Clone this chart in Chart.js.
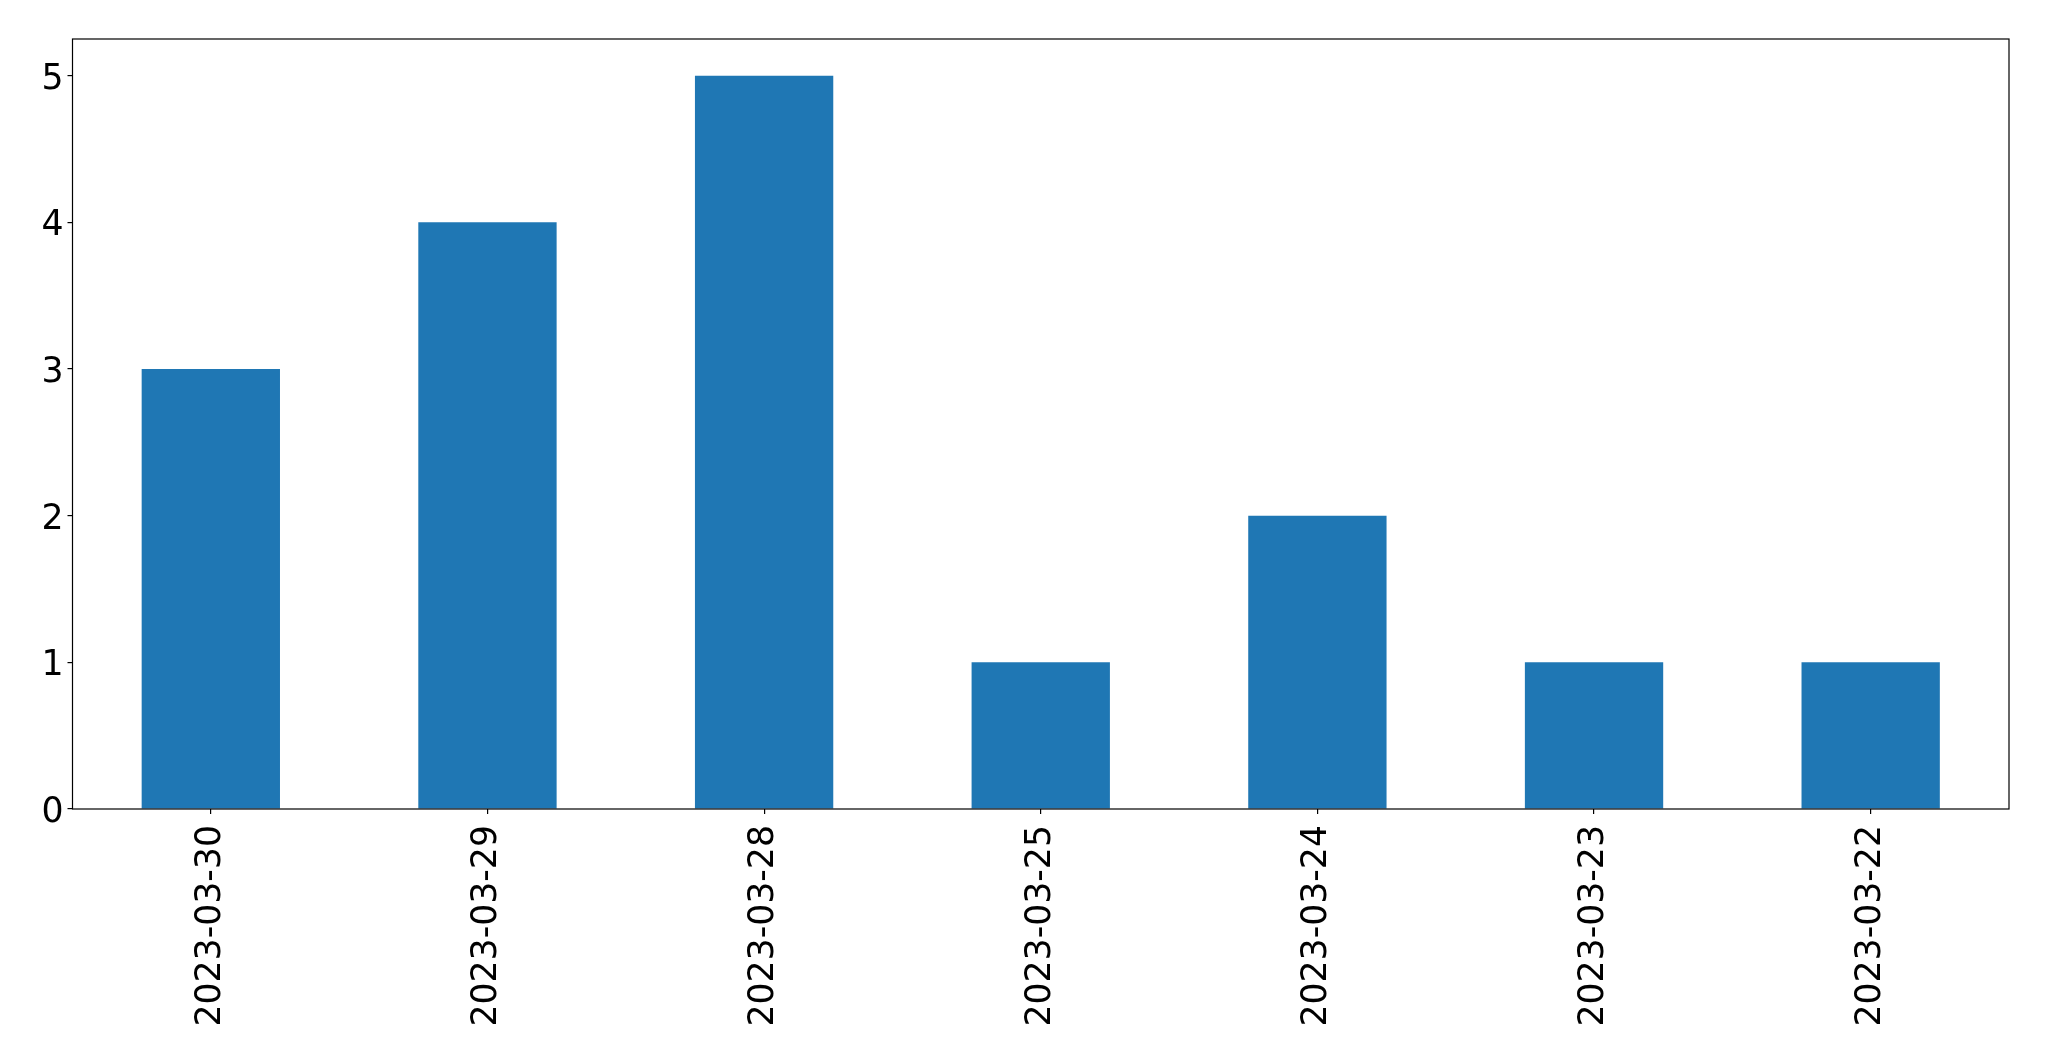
<!DOCTYPE html>
<html>
<head>
<meta charset="utf-8">
<script src="https://cdn.jsdelivr.net/npm/chart.js@4"></script>
<style>
  html, body { margin: 0; padding: 0; background: #fff; }
  #wrap { width: 2049px; height: 1061px; }
</style>
</head>
<body>
<div id="wrap"><canvas id="chartCanvas" width="2049" height="1061"></canvas></div>
<script>
// --- Data ---
const dates = ['2023-03-30', '2023-03-29', '2023-03-28', '2023-03-25', '2023-03-24', '2023-03-23', '2023-03-22'];
const counts = [3, 4, 5, 1, 2, 1, 1];
const yTicks = [0, 1, 2, 3, 4, 5];

const tickFont = { family: 'DejaVu Sans', size: 34.7 };

// Draw the black frame around the plot area
const framePlugin = {
    id: 'frame',
    afterDatasetsDraw(chart) {
        const { ctx, chartArea: a } = chart;
        ctx.save();
        ctx.strokeStyle = '#000';
        ctx.lineWidth = 1.2;
        ctx.strokeRect(a.left, a.top, a.right - a.left, a.bottom - a.top);
        ctx.restore();
    }
};

const canvas = document.getElementById('chartCanvas');
new Chart(canvas, {
    type: 'bar',
    data: {
        labels: dates,
        datasets: [{
            data: counts,
            backgroundColor: '#1f77b4',
            barPercentage: 0.5,
            categoryPercentage: 1.0
        }]
    },
    options: {
        responsive: false,
        animation: false,
        layout: { padding: { top: 39, right: 40, left: 0, bottom: 0 } },
        plugins: {
            legend: { display: false },
            title: { display: false },
            tooltip: { enabled: false }
        },
        scales: {
            x: {
                grid: {
                    offset: false,
                    drawOnChartArea: false,
                    tickLength: 5,
                    color: '#000',
                    lineWidth: 1.2
                },
                border: { display: false },
                ticks: {
                    color: '#000',
                    font: tickFont,
                    minRotation: 90,
                    maxRotation: 90,
                    padding: 11,
                    autoSkip: false
                },
                afterFit(scale) { scale.height = 252; }
            },
            y: {
                min: 0,
                max: 5.25,
                grid: {
                    drawOnChartArea: false,
                    tickLength: 5,
                    color: '#000',
                    lineWidth: 1.2
                },
                border: { display: false },
                ticks: {
                    color: '#000',
                    font: tickFont,
                    padding: 4,
                    labelOffset: 4
                },
                afterBuildTicks(scale) {
                    scale.ticks = yTicks.map(v => ({ value: v }));
                },
                afterFit(scale) { scale.width = 72.5; }
            }
        }
    },
    plugins: [framePlugin]
});
</script>
</body>
</html>
